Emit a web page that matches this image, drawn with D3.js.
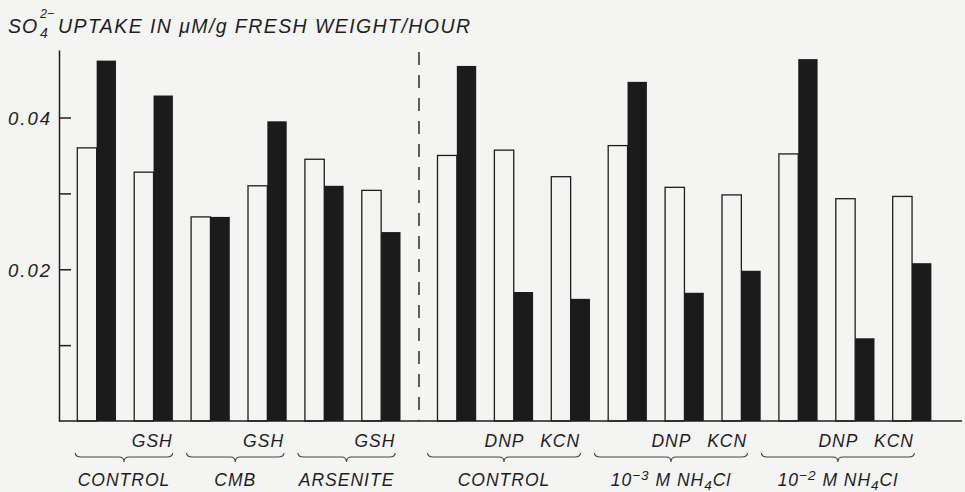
<!DOCTYPE html>
<html>
<head>
<meta charset="utf-8">
<script src="https://cdn.jsdelivr.net/npm/d3@7"></script>
<style>
  body { margin: 0; background: #f4f4f2; }
  svg { display: block; font-family: "Liberation Sans", Arial, sans-serif; font-style: italic; }
</style>
</head>
<body>
<svg id="chart"></svg>
<script>
// --- Data ---
// one entry per pair of bars, left to right
const pairLabels  = ["", "GSH", "", "GSH", "", "GSH", "", "DNP", "KCN", "", "DNP", "KCN", "", "DNP", "KCN"];
const pairGroup   = [0, 0, 1, 1, 2, 2, 3, 3, 3, 4, 4, 4, 5, 5, 5];
// open bars
const openValues  = [0.0360, 0.0328, 0.0269, 0.0310, 0.0345, 0.0304, 0.0350, 0.0357, 0.0322,
                     0.0363, 0.0308, 0.0298, 0.0352, 0.0293, 0.0296];
// filled bars
const filledValues = [0.0475, 0.0429, 0.0269, 0.0395, 0.0310, 0.0249, 0.0468, 0.0170, 0.0161,
                      0.0447, 0.0169, 0.0198, 0.0477, 0.0109, 0.0208];
// group captions (parts: plain / sup / sub)
const groupLabels = [
    [{ t: "CONTROL" }],
    [{ t: "CMB" }],
    [{ t: "ARSENITE" }],
    [{ t: "CONTROL" }],
    [{ t: "10" }, { t: "−3", sup: true }, { t: " M  NH" }, { t: "4", sub: true }, { t: "Cl" }],
    [{ t: "10" }, { t: "−2", sup: true }, { t: " M  NH" }, { t: "4", sub: true }, { t: "Cl" }]
];
const groupPanel = [0, 0, 0, 1, 1, 1];
const yTicks = [0.01, 0.02, 0.03, 0.04];
const yTickLabels = ["", "0.02", "", "0.04"];

// --- Sizing ---
const width = 965, height = 492;
const ink = "#1e1e1e";
const paper = "#f4f4f2";

const svg = d3.select("#chart")
    .attr("width", width)
    .attr("height", height);

// --- Scales ---
const panelGap = 0.33; // extra space (in pair units) around the dashed divider
const pairPos = pairLabels.map((d, i) => i + (groupPanel[pairGroup[i]] ? panelGap : 0));
const lastPos = d3.max(pairPos);

const x = d3.scaleLinear()
    .domain([0, lastPos])
    .range([77.3, 892.7]);
// the lettering under the axis drifts a bit to the left
const xl = d3.scaleLinear()
    .domain([0, lastPos])
    .range([77.3, 874.7]);

const barW = x(0.34) - x(0);

const y = d3.scaleLinear()
    .domain([0, 0.0489])
    .range([421, 50]);

// --- Bars ---
const bars = svg.append("g");
bars.selectAll("rect.open")
    .data(openValues)
    .join("rect")
    .attr("class", "open")
    .attr("x", (d, i) => x(pairPos[i]))
    .attr("y", d => y(d))
    .attr("width", barW)
    .attr("height", d => y(0) - y(d))
    .attr("fill", paper)
    .attr("stroke", ink)
    .attr("stroke-width", 1.3);

bars.selectAll("rect.filled")
    .data(filledValues)
    .join("rect")
    .attr("class", "filled")
    .attr("x", (d, i) => x(pairPos[i]) + barW)
    .attr("y", d => y(d))
    .attr("width", barW)
    .attr("height", d => y(0) - y(d))
    .attr("fill", "#1b1b1b");

// --- Y axis (ticks point inward) ---
const yAxis = svg.append("g")
    .attr("transform", "translate(59,0)")
    .call(d3.axisLeft(y)
        .tickValues(yTicks)
        .tickSize(-12)
        .tickSizeOuter(0)
        .tickPadding(7)
        .tickFormat((d, i) => yTickLabels[i]));
yAxis.attr("font-family", null).attr("font-size", null);
yAxis.select(".domain").attr("stroke", ink).attr("stroke-width", 1.5);
yAxis.selectAll(".tick line").attr("stroke", ink).attr("stroke-width", 1.5);
yAxis.selectAll(".tick text")
    .attr("font-size", 18.5)
    .attr("fill", ink)
    .attr("letter-spacing", 2)
    .attr("dy", "0.38em");

// --- Baseline ---
svg.append("line")
    .attr("x1", 59).attr("x2", 962)
    .attr("y1", y(0)).attr("y2", y(0))
    .attr("stroke", ink)
    .attr("stroke-width", 1.5);

// --- Dashed divider between the two experiments ---
const lastLeft = d3.max(pairPos.filter((p, i) => !groupPanel[pairGroup[i]]));
const firstRight = d3.min(pairPos.filter((p, i) => groupPanel[pairGroup[i]]));
const divX = (x(lastLeft) + 2 * barW + x(firstRight)) / 2;
svg.append("line")
    .attr("x1", divX).attr("x2", divX)
    .attr("y1", 52).attr("y2", y(0))
    .attr("stroke", ink)
    .attr("stroke-width", 1.4)
    .attr("stroke-dasharray", "13,10");

// --- Treatment labels over each pair ---
svg.append("g")
    .selectAll("text")
    .data(pairLabels)
    .join("text")
    .attr("x", (d, i) => xl(pairPos[i]) + barW)
    .attr("y", 447)
    .attr("text-anchor", "middle")
    .attr("font-size", 17.5)
    .attr("letter-spacing", 1)
    .attr("fill", ink)
    .text(d => d);

// --- Braces and group captions ---
const groupExtent = groupLabels.map((g, gi) => {
    const ps = pairPos.filter((p, i) => pairGroup[i] === gi);
    return [xl(d3.min(ps)) - 2, xl(d3.max(ps)) + 2 * barW + 1];
});

function bracePath([x0, x1]) {
    const top = 453, mid = 457, tip = 462, xm = (x0 + x1) / 2;
    return `M${x0},${top} Q${x0},${mid} ${x0 + 6},${mid} L${xm - 5},${mid} ` +
           `Q${xm},${mid} ${xm},${tip} Q${xm},${mid} ${xm + 5},${mid} ` +
           `L${x1 - 6},${mid} Q${x1},${mid} ${x1},${top}`;
}

svg.append("g")
    .selectAll("path")
    .data(groupExtent)
    .join("path")
    .attr("d", bracePath)
    .attr("fill", "none")
    .attr("stroke", "#444")
    .attr("stroke-width", 1.1);

const captions = svg.append("g")
    .selectAll("text")
    .data(groupLabels)
    .join("text")
    .attr("x", (d, i) => (groupExtent[i][0] + groupExtent[i][1]) / 2)
    .attr("y", 486)
    .attr("text-anchor", "middle")
    .attr("font-size", 17.5)
    .attr("letter-spacing", 1)
    .attr("fill", ink);

captions.selectAll("tspan")
    .data(d => d)
    .join("tspan")
    .attr("font-size", d => (d.sup || d.sub) ? 13.5 : null)
    .attr("dy", (d, i, nodes) => {
        const prev = i > 0 ? d3.select(nodes[i - 1]).datum() : null;
        let shift = 0;
        if (prev && prev.sup) shift += 6;
        if (prev && prev.sub) shift -= 4;
        if (d.sup) shift -= 6;
        if (d.sub) shift += 4;
        return shift;
    })
    .text(d => d.t);

// --- Title ---
const title = svg.append("g").attr("fill", ink);
title.append("text")
    .attr("x", 8).attr("y", 33)
    .attr("font-size", 19.5)
    .attr("letter-spacing", 1)
    .text("SO");
title.append("text")
    .attr("x", 40).attr("y", 18)
    .attr("font-size", 12.5)
    .text("2−");
title.append("text")
    .attr("x", 40).attr("y", 38)
    .attr("font-size", 14)
    .text("4");
title.append("text")
    .attr("x", 58).attr("y", 33)
    .attr("font-size", 19.5)
    .attr("textLength", 412)
    .attr("lengthAdjust", "spacing")
    .text("UPTAKE IN μM/g FRESH WEIGHT/HOUR");
</script>
</body>
</html>
